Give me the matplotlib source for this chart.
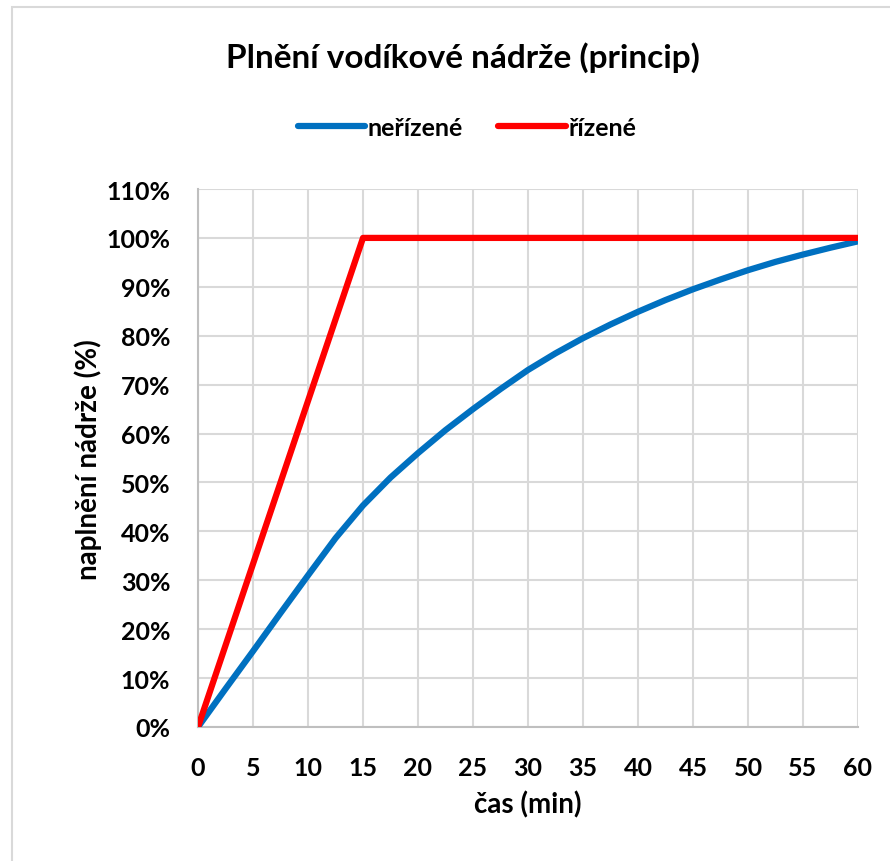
import matplotlib
matplotlib.use("Agg")
import matplotlib.pyplot as plt
from matplotlib.patches import Rectangle
from matplotlib.ticker import FuncFormatter

plt.rcParams['font.family'] = ['Lato', 'DejaVu Sans']
plt.rcParams['font.weight'] = 'bold'

# data
time_uncontrolled = [0, 2.5, 5, 7.5, 10, 12.5, 15, 17.5, 20, 22.5, 25, 27.5, 30, 32.5, 35,
                     37.5, 40, 42.5, 45, 47.5, 50, 52.5, 55, 57.5, 60]
fill_uncontrolled = [0, 7.8, 15.5, 23.3, 31.0, 38.6, 45.3, 51.0, 56.0, 60.7, 65.0, 69.1, 73.0,
                     76.4, 79.5, 82.3, 84.9, 87.3, 89.5, 91.5, 93.4, 95.1, 96.6, 98.0, 99.3]
time_controlled = [0, 15, 60]
fill_controlled = [0, 100, 100]
labels = ['neřízené', 'řízené']
title = 'Plnění vodíkové nádrže (princip)'
xlabel = 'čas (min)'
ylabel = 'naplnění nádrže (%)'

fig = plt.figure(figsize=(8.9, 8.62), dpi=100)
fig.patch.set_facecolor('white')
fig.patches.append(Rectangle((12/890, -0.1), 1.2, 1 - 8/862 + 0.1, transform=fig.transFigure,
                             fill=False, edgecolor='#d9d9d9', linewidth=1.5))

ax = fig.add_axes([198/890, 1 - 728/862, 660/890, 538/862])
ax.plot(time_uncontrolled, fill_uncontrolled, color='#0070c0', linewidth=4.5,
        solid_capstyle='round', solid_joinstyle='round', label=labels[0], zorder=3)
ax.plot(time_controlled, fill_controlled, color='#ff0000', linewidth=4.5,
        solid_capstyle='round', solid_joinstyle='round', label=labels[1], zorder=4)

ax.set_xlim(0, 60)
ax.set_ylim(0, 110)
ax.set_xticks(range(0, 61, 5))
ax.set_yticks(range(0, 111, 10))
ax.yaxis.set_major_formatter(FuncFormatter(lambda v, p: f'{int(v)}%'))
ax.grid(True, color='#d9d9d9', linewidth=1.5)
ax.set_axisbelow(True)
for s in ['top', 'right']:
    ax.spines[s].set_visible(False)
for s in ['left', 'bottom']:
    ax.spines[s].set_color('#bfbfbf')
    ax.spines[s].set_linewidth(1.5)
ax.tick_params(length=0, labelsize=18)
ax.tick_params(axis='y', pad=20)
ax.tick_params(axis='x', pad=21)
for lab in ax.get_xticklabels() + ax.get_yticklabels():
    lab.set_fontweight('bold')

fig.text(528/890, 1 - 805/862, xlabel, ha='center', va='center', fontsize=20, fontweight='bold')
fig.text(88/890, 1 - 460/862, ylabel, ha='center', va='center', rotation=90,
         fontsize=20, fontweight='bold')

fig.text(463/890, 1 - 58/862, title, ha='center', va='center', fontsize=24, fontweight='bold')
leg = fig.legend(loc='center', bbox_to_anchor=(467/890, 1 - 128/862), ncol=2, frameon=False,
                 fontsize=18, handlelength=2.7, handletextpad=0.1, columnspacing=1.4)
for t in leg.get_texts():
    t.set_fontweight('bold')

fig.savefig('out.png', dpi=100)
